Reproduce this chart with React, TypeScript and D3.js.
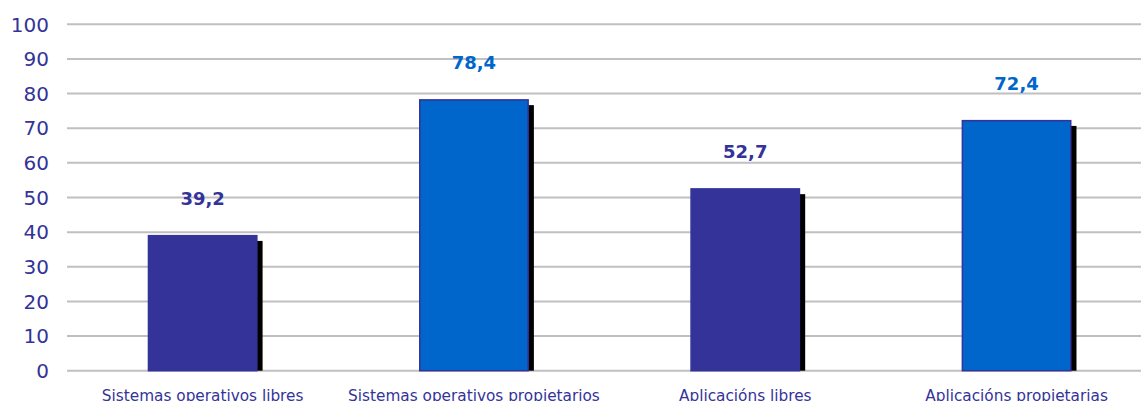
import React from "react";
import * as d3 from "d3";

const categories = [
  "Sistemas operativos libres",
  "Sistemas operativos propietarios",
  "Aplicacións libres",
  "Aplicacións propietarias",
];
const values = [39.2, 78.4, 52.7, 72.4];
const valueLabels = ["39,2", "78,4", "52,7", "72,4"];
const yTicks = [0, 10, 20, 30, 40, 50, 60, 70, 80, 90, 100];

const DARK = "#333399";
const BLUE = "#0066CC";
const barColors = [DARK, BLUE, DARK, BLUE];

export default function App() {
  const W = 1141;
  const H = 401;
  const left = 67;
  const step = 271.3;
  const x = d3
    .scaleBand<string>()
    .domain(categories)
    .range([left, left + step * categories.length])
    .paddingInner(0.595)
    .paddingOuter(0.2975);
  const y = d3.scaleLinear().domain([0, 100]).range([370.7, 24.3]);
  const font = "'DejaVu Sans', Verdana, sans-serif";
  return (
    <svg
      width={W}
      height={H}
      style={{ position: "absolute", left: 0, top: 0, background: "#fff" }}
    >
      {yTicks.map((t) => (
        <g key={t}>
          <line
            x1={left}
            x2={W}
            y1={y(t)}
            y2={y(t)}
            stroke="#c0c0c0"
            strokeWidth={2}
          />
          <text
            x={49}
            y={y(t)}
            dy="0.36em"
            textAnchor="end"
            fontFamily={font}
            fontSize={20}
            fill={DARK}
          >
            {t}
          </text>
        </g>
      ))}
      {categories.map((c, i) => {
        const bx = x(c)!;
        const bw = x.bandwidth();
        const top = y(values[i]);
        const base = y(0);
        return (
          <g key={c}>
            <rect
              x={bx + 5}
              y={top + 6}
              width={bw}
              height={base - top - 6}
              fill="#000"
            />
            <rect
              x={bx + 0.75}
              y={top + 0.75}
              width={bw - 1.5}
              height={base - top - 0.75}
              fill={barColors[i]}
              stroke={DARK}
              strokeWidth={1.5}
            />
            <text
              x={bx + bw / 2}
              y={top - 30}
              textAnchor="middle"
              fontFamily={font}
              fontWeight="bold"
              fontSize={18}
              fill={barColors[i]}
            >
              {valueLabels[i]}
            </text>
            <text
              x={bx + bw / 2}
              y={401}
              textAnchor="middle"
              fontFamily={font}
              fontSize={15.3}
              fill={DARK}
            >
              {c}
            </text>
          </g>
        );
      })}
    </svg>
  );
}
